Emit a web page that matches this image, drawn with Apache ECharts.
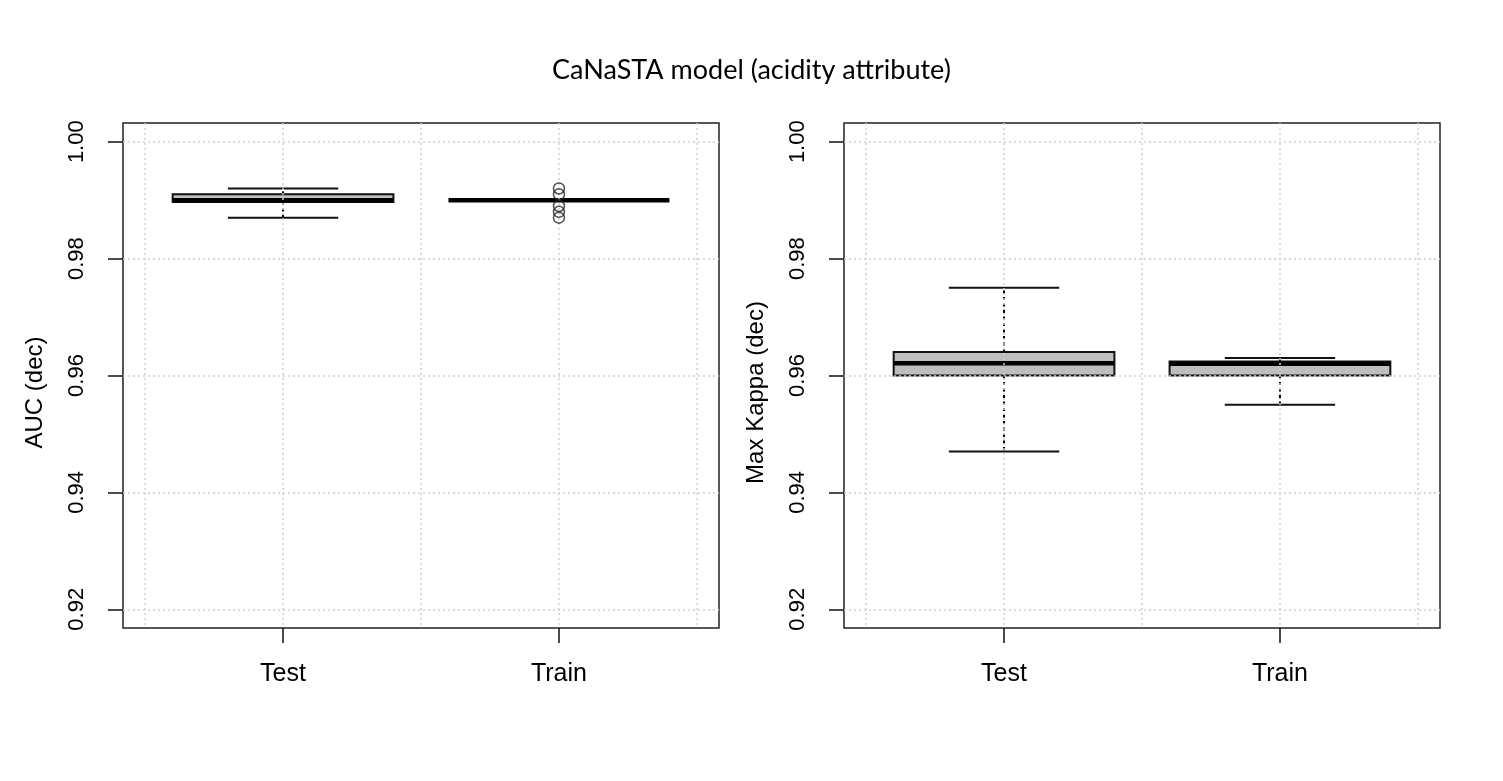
<!DOCTYPE html>
<html>
<head>
  <meta charset="utf-8">
  <title>CaNaSTA model (acidity attribute)</title>
  <style>
    html, body { margin: 0; padding: 0; background: #fff; }
    #main { width: 1503px; height: 781px; }
  </style>
</head>
<body>
  <div id="main"></div>
</body>
<script src="https://cdn.jsdelivr.net/npm/echarts@6/dist/echarts.min.js"></script>
<script>
let myChart = echarts.init(document.querySelector('#main'))

// categories on the x axis (positions 1 and 2)
const categories = ['Test', 'Train'];
const yTicks = [0.92, 0.94, 0.96, 0.98, 1.00];
const xGridValues = [0.5, 1, 1.5, 2, 2.5];

// box stats per category: [lower whisker, Q1, median, Q3, upper whisker]
const aucStats = [
    [0.987, 0.9897, 0.9900, 0.9910, 0.992],
    [0.990, 0.9900, 0.9900, 0.9900, 0.990]
];
const aucOutliers = [
    [2, 0.992], [2, 0.991], [2, 0.989], [2, 0.988], [2, 0.987]
];
const kappaStats = [
    [0.947, 0.9600, 0.9621, 0.9640, 0.975],
    [0.955, 0.9600, 0.9620, 0.9624, 0.963]
];
const kappaOutliers = [];

// R style axis extension (4% each side)
const yMin = 0.92 - 0.04 * 0.08, yMax = 1.00 + 0.04 * 0.08;
const xMin = 0.5 - 0.04 * 2, xMax = 2.5 + 0.04 * 2;

const font = '"Liberation Sans", Arial, sans-serif';
const gridLine = { show: true, lineStyle: { color: '#cfcfcf', width: 1.5, type: [2, 3] } };

function boxItem(params, api) {
    let x = api.value(0);
    let lo = api.value(1), q1 = api.value(2), md = api.value(3), q3 = api.value(4), hi = api.value(5);
    let tl = api.coord([x - 0.4, q3]), br = api.coord([x + 0.4, q1]);
    let cl = api.coord([x - 0.2, hi]), cr = api.coord([x + 0.2, hi]);
    let ll = api.coord([x - 0.2, lo]), lr = api.coord([x + 0.2, lo]);
    let mid = api.coord([x, md]);
    let dash = { stroke: '#000', lineWidth: 2, lineDash: [3, 3.5] };
    let solid = { stroke: '#111', lineWidth: 2 };
    return {
        type: 'group',
        children: [
            { type: 'line', shape: { x1: mid[0], y1: tl[1], x2: mid[0], y2: cl[1] }, style: dash },
            { type: 'line', shape: { x1: mid[0], y1: br[1], x2: mid[0], y2: ll[1] }, style: dash },
            { type: 'line', shape: { x1: cl[0], y1: cl[1], x2: cr[0], y2: cr[1] }, style: solid },
            { type: 'line', shape: { x1: ll[0], y1: ll[1], x2: lr[0], y2: lr[1] }, style: solid },
            { type: 'rect', shape: { x: tl[0], y: tl[1], width: br[0] - tl[0], height: br[1] - tl[1] },
              style: { fill: '#bebebe', stroke: '#111', lineWidth: 2 } },
            { type: 'line', shape: { x1: tl[0], y1: mid[1], x2: br[0], y2: mid[1] },
              style: { stroke: '#000', lineWidth: 4.5 } }
        ]
    };
}

function panelAxes(gridIndex, name) {
    return {
        x: [{
            gridIndex: gridIndex, type: 'value', min: xMin, max: xMax, position: 'bottom',
            axisLine: { show: false },
            axisTick: { show: true, length: 15, customValues: [1, 2], lineStyle: { color: '#111', width: 1.5 } },
            axisLabel: {
                show: true, customValues: [1, 2], margin: 34, fontSize: 25, color: '#000', fontFamily: font,
                formatter: v => categories[Math.round(v) - 1]
            },
            splitLine: { show: false }
        }, {
            gridIndex: gridIndex, type: 'value', min: xMin, max: xMax, position: 'bottom', z: 3,
            axisLine: { show: false },
            axisTick: { show: false, customValues: xGridValues },
            axisLabel: { show: false },
            splitLine: gridLine
        }],
        y: {
            gridIndex: gridIndex, type: 'value', min: yMin, max: yMax, z: 3,
            name: name, nameLocation: 'middle', nameRotate: 90, nameGap: 76,
            nameTextStyle: { fontSize: 24, color: '#000', fontFamily: font, padding: [0, 34, 0, 0] },
            axisLine: { show: false },
            axisTick: { show: true, length: 15, customValues: yTicks, lineStyle: { color: '#111', width: 1.5 } },
            axisLabel: {
                show: true, customValues: yTicks, rotate: 90, margin: 35, fontSize: 22, color: '#000', fontFamily: font,
                formatter: v => v.toFixed(2)
            },
            splitLine: gridLine
        }
    };
}

const left = panelAxes(0, 'AUC (dec)');
const right = panelAxes(1, 'Max Kappa (dec)');

function boxData(stats) {
    return stats.map((s, i) => [i + 1].concat(s));
}

let option = {
    animation: false,
    backgroundColor: '#fff',
    title: {
        text: 'CaNaSTA model (acidity attribute)',
        left: 'center',
        top: 52,
        textStyle: { fontSize: 27, fontWeight: 'normal', color: '#000', fontFamily: 'Lato, "Open Sans", sans-serif' }
    },
    grid: [
        { left: 123, top: 123, width: 596, height: 505, show: true, borderColor: '#222', borderWidth: 1.5, outerBoundsMode: 'none' },
        { left: 844, top: 123, width: 596, height: 505, show: true, borderColor: '#222', borderWidth: 1.5, outerBoundsMode: 'none' }
    ],
    xAxis: left.x.concat(right.x),
    yAxis: [left.y, right.y],
    series: [
        {
            name: 'AUC', type: 'custom', xAxisIndex: 0, yAxisIndex: 0,
            renderItem: boxItem, encode: { x: 0, y: [1, 2, 3, 4, 5] },
            data: boxData(aucStats)
        },
        {
            name: 'AUC outliers', type: 'scatter', xAxisIndex: 0, yAxisIndex: 0,
            symbol: 'circle', symbolSize: 11, z: 4,
            itemStyle: { color: 'rgba(0,0,0,0)', borderColor: '#222', borderWidth: 1.5 },
            data: aucOutliers
        },
        {
            name: 'Max Kappa', type: 'custom', xAxisIndex: 2, yAxisIndex: 1,
            renderItem: boxItem, encode: { x: 0, y: [1, 2, 3, 4, 5] },
            data: boxData(kappaStats)
        },
        {
            name: 'Max Kappa outliers', type: 'scatter', xAxisIndex: 2, yAxisIndex: 1,
            symbol: 'circle', symbolSize: 11, z: 4,
            itemStyle: { color: 'rgba(0,0,0,0)', borderColor: '#222', borderWidth: 1.5 },
            data: kappaOutliers
        }
    ]
};
myChart.setOption(option);
</script>
</html>
